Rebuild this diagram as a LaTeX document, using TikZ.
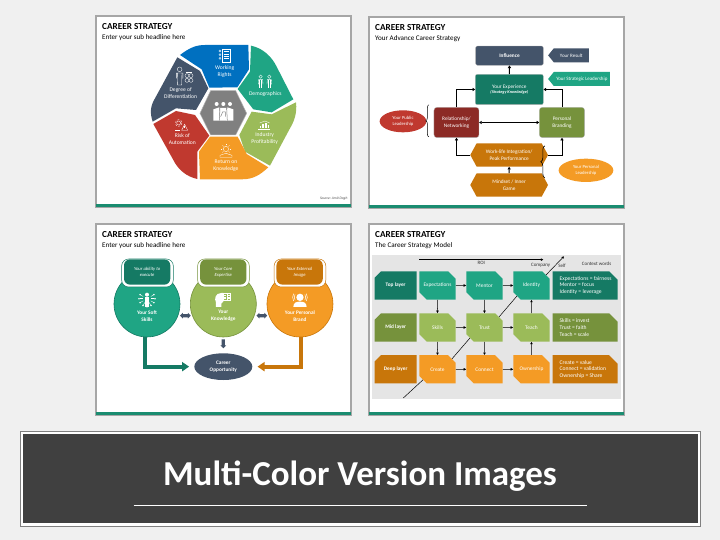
\documentclass[tikz,border=0pt]{standalone}
\usepackage{fontspec}
\setmainfont{Carlito}
\usetikzlibrary{arrows.meta,shapes.misc,shapes.symbols,shapes.arrows,shapes.geometric,decorations.pathreplacing}
\definecolor{pagegray}{HTML}{F0F0F0}
\definecolor{navy}{HTML}{44546A}
\definecolor{bluept}{HTML}{0070C0}
\definecolor{tealpt}{HTML}{1FA584}
\definecolor{tealdk}{HTML}{157A64}
\definecolor{greenpt}{HTML}{9BBB59}
\definecolor{greendk}{HTML}{76923C}
\definecolor{orangept}{HTML}{F49B25}
\definecolor{orangedk}{HTML}{C8760A}
\definecolor{redpt}{HTML}{C0392F}
\definecolor{reddk}{HTML}{8C2A25}
\newcommand{\fs}[2]{\fontsize{#1}{#2}\selectfont}
\tikzset{
    panel/.style={fill=white,draw=black!35,line width=1.2pt},
    panelbar/.style={fill=tealpt!85!black},
    slidetitle/.style={anchor=west,inner sep=0,font=\fs{9.2}{10}\bfseries},
    slidesub/.style={anchor=west,inner sep=0,font=\fs{7.1}{8}},
    petallabel/.style={text=white,align=center,inner sep=0,font=\fs{5.6}{6.8}},
    flowbox/.style={rounded corners=2pt,text=white,align=center,inner sep=0,draw=white!70!black,line width=.3pt,font=\fs{5.3}{7}},
    hexbox/.style={signal,signal to=west and east,signal pointer angle=123,minimum width=77.7pt,minimum height=23.3pt,
        fill=orangedk,text=white,align=center,inner sep=0,font=\fs{5.3}{7}},
    tagbox/.style={signal,signal to=west,signal pointer angle=102,minimum height=14pt,text=white,inner sep=0,font=\fs{5}{6}},
    talkoval/.style={ellipse,text=white,align=center,inner sep=0,font=\fs{4.7}{6}},
    flowline/.style={draw=black,line width=.9pt,-{Triangle[length=2.6pt,width=3.2pt]}},
    bigcircle/.style={circle,minimum size=66pt,inner sep=0,line width=.6pt},
    tabouter/.style={rounded corners=7pt,minimum width=51.7pt,minimum height=28pt,fill=white,line width=.5pt},
    tabinner/.style={rounded corners=6pt,minimum width=46.3pt,minimum height=25.3pt,text=white,align=center,inner sep=0,font=\fs{4.7}{6}\itshape},
    circlelabel/.style={text=white,align=center,inner sep=0,font=\fs{5.3}{6.8}\bfseries},
    blockarrow/.style={fill=navy,inner sep=1.4pt,minimum height=10.7pt,single arrow head extend=1.3pt,double arrow head extend=1.3pt},
    widearrow/.style={line width=4pt,-{Triangle[length=7pt,width=9pt]},shorten >=5pt},
    modelbox/.style={chamfered rectangle,chamfered rectangle corners={north east,south west},chamfered rectangle xsep=4.5pt,chamfered rectangle ysep=4pt,
        minimum width=36.3pt,minimum height=28.3pt,inner sep=0},
    modelword/.style={inner sep=0,text=white,font=\fs{5.4}{6.6}},
    layerbox/.style={chamfered rectangle,chamfered rectangle corners=north west,chamfered rectangle xsep=4.3pt,chamfered rectangle ysep=4pt,
        minimum width=42pt,minimum height=28.3pt,inner sep=0,text=white,font=\fs{5.3}{6.6}\bfseries},
    wordbox/.style={chamfered rectangle,chamfered rectangle corners=north east,chamfered rectangle xsep=11pt,chamfered rectangle ysep=5pt,
        minimum width=65pt,minimum height=28.3pt,inner sep=0},
    wordtext/.style={inner sep=0,text=white,text width=51pt,align=flush left,font=\fs{5.6}{6.6}},
    modelline/.style={draw=black,line width=.5pt,-{Triangle[length=2.4pt,width=2.4pt]}},
    modeltext/.style={inner sep=0,text=black!80,font=\fs{5}{6}},
    iconline/.style={draw=white,line width=.35pt,fill=none},
    iconfill/.style={fill=white},
}
\begin{document}
\begin{tikzpicture}[x=1pt,y=-1pt]
    \useasboundingbox (0,0) rectangle (720,540);
    \fill[pagegray] (0,0) rectangle (720,540);

    % the four slides
    \foreach \px/\py/\tx/\subline in {96/16/102/Enter your sub headline here,369/17/375/Your Advance Career Strategy,96/224/102/Enter your sub headline here,369/224/375/The Career Strategy Model}{
        \draw[panel] (\px,\py) rectangle ++(255,191);
        \fill[panelbar] (\px,\py) ++(0,188) rectangle ++(255,3);
        \node[slidetitle] (title\px\py) at (\tx,\py+11) {CAREER STRATEGY};
        \node[slidesub] (sub\px\py) at (\tx,\py+22) {\subline};
    }

    % slide 1
    \begin{scope}[shift={(90pt,-10pt)},x=.3333pt,y=-.3333pt]
        \fill[bluept] (270,135) .. controls (300,112) and (320,105) .. (345,105) -- (475,105) -- (477,178) -- (442,232) -- (358,233) -- (335,178) -- cycle;
        \fill[tealpt] (483,107) .. controls (520,115) and (545,140) .. (560,170) -- (610,268) -- (545,307) -- (490,298) -- (443,237) -- (480,185) -- cycle;
        \fill[greenpt] (618,277) .. controls (622,310) and (612,335) .. (600,355) -- (540,467) -- (465,425) -- (448,375) -- (485,305) -- (545,313) -- cycle;
        \fill[orangept] (535,472) .. controls (510,495) and (490,508) .. (455,508) -- (330,508) -- (327,425) -- (360,380) -- (443,380) -- (470,432) -- cycle;
        \fill[redpt] (322,507) .. controls (290,500) and (265,480) .. (250,450) -- (190,342) -- (258,303) -- (315,315) -- (358,377) -- (322,425) -- cycle;
        \fill[navy] (188,335) .. controls (180,310) and (180,290) .. (195,265) -- (262,142) -- (330,183) -- (355,235) -- (318,300) -- (258,295) -- cycle;
        \draw[fill=black!50,draw=black!30,line width=.5pt] (330,310) -- (362,242) -- (437,242) -- (470,310) -- (437,375) -- (362,375) -- cycle;

        \node[petallabel] (working) at (404,185) {Working\\Rights};
        \node[petallabel] (demographics) at (526,252) {Demographics};
        \node[petallabel] (industry) at (524,386) {Industry\\Profitability};
        \node[petallabel] (knowledgereturn) at (408,467) {Return on\\Knowledge};
        \node[petallabel] (automation) at (277,387) {Risk of\\Automation};
        \node[petallabel] (degree) at (272,250) {Degree of\\Differentiation};
        \node[inner sep=0,anchor=east,font=\fs{3.6}{4}\itshape,text=black!70] (source) at (773,567) {Source: Amit Dogh};

        % icons
        \begin{scope}[shift={(404,137)}]
            \draw[iconline] (-8,-19) rectangle (18,19);
            \foreach \ly in {-12,-5,2,9} \draw[iconline] (-3,\ly) -- (13,\ly);
            \foreach \ly in {-14,-3,8} \draw[iconline] (-14,\ly) circle (3);
        \end{scope}
        \begin{scope}[shift={(525,215)}]
            \foreach \hx in {-13,13}{
                \draw[iconline] (\hx,-15) circle (5);
                \draw[iconline] (\hx-7,8) -- (\hx-6,-6) -- (\hx+6,-6) -- (\hx+7,8);
                \draw[iconline] (\hx-3,-6) -- (\hx-3,20) (\hx+3,-6) -- (\hx+3,20);
            }
        \end{scope}
        \begin{scope}[shift={(523,347)}]
            \foreach \bx/\bh in {-14/8,-6/12,2/16,10/10} \fill[iconfill] (\bx,8) rectangle ++(5,-\bh);
            \draw[iconline] (-18,12) -- (18,12);
            \draw[iconline] (-14,-8) -- (2,-14) -- (16,-8);
        \end{scope}
        \begin{scope}[shift={(408,422)}]
            \draw[iconline] (0,-5) circle (8);
            \foreach \ra in {0,45,135,180,225,270,315} \draw[iconline] (\ra:11) ++(0,-5) -- ++(\ra:4);
            \draw[iconline] (-18,14) -- (0,8) -- (18,14) -- (18,20) -- (-18,20) -- cycle;
        \end{scope}
        \begin{scope}[shift={(272,345)}]
            \draw[iconline] (-6,-6) circle (6);
            \draw[iconline,dashed,dash pattern=on 2pt off 1.5pt] (-6,-6) circle (10);
            \draw[iconline] (3,16) -- (12,-2) -- (21,16) -- cycle;
            \draw[iconline] (12,4) -- (12,10);
            \draw[iconline] (-16,16) -- (-2,16);
        \end{scope}
        \begin{scope}[shift={(285,197)}]
            \draw[iconline] (-16,-19) circle (7);
            \draw[iconline] (-26,8) -- (-26,-8) -- (-6,-8) -- (-6,8) (-23,-8) -- (-22,28) -- (-10,28) -- (-9,-8);
            \foreach \cx/\cy in {6/0,18/0,6/14,18/14} \draw[iconline] (\cx,\cy) circle (6);
            \draw[iconline] (3,-10) -- (22,-10);
        \end{scope}
        \begin{scope}[shift={(400,310)}]
            \foreach \cx in {-20,0,20}{
                \fill[iconfill] (\cx,-28) circle (6);
            }
            \fill[iconfill] (-30,22) -- (-30,-12) -- (-12,-18) -- (-10,22) -- cycle;
            \fill[iconfill] (30,22) -- (30,-12) -- (12,-18) -- (10,22) -- cycle;
            \fill[iconfill] (-12,22) -- (-10,-16) -- (10,-16) -- (12,22) -- cycle;
            \draw[black!50,line width=.5pt] (-10,-16) -- (-12,22) (10,-16) -- (12,22) (-8,10) -- (-2,-4) -- (6,-4) -- (6,10);
        \end{scope}
    \end{scope}

    % slide 2
    \begin{scope}[shift={(365pt,-10pt)},x=.3333pt,y=-.3333pt]
        \node[flowbox,fill=navy,minimum width=67.7pt,minimum height=19.3pt,font=\fs{5.3}{7}\bfseries] (influence) at (433.5,137) {Influence};
        \node[flowbox,fill=tealdk,minimum width=68pt,minimum height=30.3pt] (experience) at (433,238.5) {Your Experience\\[-1.5pt]{\fs{4.2}{5}\bfseries\itshape (Strategy Knowledge)}};
        \node[flowbox,fill=reddk,minimum width=45pt,minimum height=30.3pt,rounded corners=3pt] (relationship) at (274.5,337.5) {Relationship/\\Networking};
        \node[flowbox,fill=greendk,minimum width=45.3pt,minimum height=30.3pt,rounded corners=3pt] (branding) at (591,337.5) {Personal\\Branding};
        \node[hexbox] (worklife) at (432.5,435) {Work-life Integration/\\Peak Performance};
        \node[hexbox] (mindset) at (432.5,525) {Mindset / Inner\\Game};
        \node[tagbox,fill=navy,minimum width=40.7pt] (result) at (619,136) {Your Result};
        \node[tagbox,fill=tealpt,minimum width=61.7pt] (strategic) at (650.5,207) {Your Strategic Leadership};
        \node[talkoval,fill=redpt,minimum width=46.7pt,minimum height=22pt] (public) at (114,334) {Your Public\\Leadership};
        \node[talkoval,fill=orangept,minimum width=54.7pt,minimum height=23.3pt] (personal) at (663,481) {Your Personal\\Leadership};

        \draw[flowline] (experience) -- (influence);
        \draw[flowline] (relationship.north) |- (experience.west);
        \draw[flowline] (branding.north) |- (experience.east);
        \draw[flowline,{Triangle[length=2.6pt,width=3.2pt]}-{Triangle[length=2.6pt,width=3.2pt]},line width=.6pt] (relationship) -- (branding);
        \draw[flowline] (worklife.west) -| (relationship.south);
        \draw[flowline] (worklife.east) -| (branding.south);
        \draw[flowline] (mindset) -- (worklife);
        \draw[black,line width=.5pt,decorate,decoration={brace,amplitude=3pt}] (relationship.south west) ++(-5pt,1pt) -- ++(0,32pt);
        \draw[black,line width=.6pt,decorate,decoration={brace,amplitude=4pt}] (worklife.south east) ++(3pt,-11pt) -- ++(0,32pt);
    \end{scope}

    % slide 3
    \begin{scope}[shift={(90pt,-218pt)},x=.3333pt,y=-.3333pt]
        \node[bigcircle,fill=tealpt,draw=tealdk] (softskills) at (171,258) {};
        \node[bigcircle,fill=greenpt,draw=greendk] (knowledge) at (400,258) {};
        \node[bigcircle,fill=orangept,draw=orangedk] (brand) at (630,258) {};
        \node[tabouter,draw=tealdk] (softtab) at (172.5,165) {};
        \node[tabouter,draw=greendk] (coretab) at (400.5,165) {};
        \node[tabouter,draw=orangedk] (imagetab) at (630,165) {};
        \node[tabinner,fill=tealdk] (softinner) at (171.5,162) {Your ability to\\execute};
        \node[tabinner,fill=greendk] (coreinner) at (400,162) {Your Core\\Expertise};
        \node[tabinner,fill=orangedk] (imageinner) at (629,162) {Your External\\Image};
        \node[circlelabel] (softlabel) at (171,294) {Your Soft\\Skills};
        \node[circlelabel] (knowlabel) at (400,294) {Your\\Knowledge};
        \node[circlelabel] (brandlabel) at (630,294) {Your Personal\\Brand};
        \node[ellipse,fill=navy,minimum width=58pt,minimum height=26.7pt,text=white,align=center,inner sep=0,font=\fs{5.3}{7}\bfseries] (career) at (400,446) {Career\\Opportunity};
        \node[double arrow,blockarrow] (softknow) at (286,293) {};
        \node[double arrow,blockarrow] (knowbrand) at (515.5,293) {};
        \node[single arrow,blockarrow,rotate=-90,minimum height=9pt] (knowcareer) at (400,375) {};

        \draw[widearrow,tealdk] ([xshift=-1.7pt]softskills.south) |- (career.west);
        \draw[widearrow,orangedk] ([xshift=1.3pt]brand.south) |- (career.east);

        % icons
        \begin{scope}[shift={(171,242)}]
            \fill[iconfill] (0,-12) circle (6);
            \fill[iconfill] (-7,-4) rectangle (7,24);
            \foreach \ra in {-30,0,30,60,90,120,150,180,210}{
                \fill[iconfill] (\ra:24) circle (2.6);
                \draw[iconline] (\ra:13) -- (\ra:22);
            }
        \end{scope}
        \begin{scope}[shift={(400,245)}]
            \fill[iconfill] (-22,22) -- (-22,8) .. controls (-28,-2) and (-24,-20) .. (-6,-20) -- (0,-20) -- (0,6) -- (-6,12) -- (-6,22) -- cycle;
            \draw[iconline,line width=.5pt] (0,-18) rectangle (22,2) (11,-18) -- (11,2);
            \foreach \ly in {-13,-8,-3} \draw[iconline] (3,\ly) -- (8,\ly) (14,\ly) -- (19,\ly);
        \end{scope}
        \begin{scope}[shift={(630,245)}]
            \fill[iconfill] (0,-7) circle (11);
            \fill[iconfill] (-20,22) .. controls (-20,8) and (-10,6) .. (0,6) .. controls (10,6) and (20,8) .. (20,22) -- cycle;
            \foreach \rr in {17,22}{
                \draw[iconline,line width=.5pt] (30:\rr) ++(0,-7) arc[start angle=30,end angle=-30,radius=\rr];
                \draw[iconline,line width=.5pt] (150:\rr) ++(0,-7) arc[start angle=150,end angle=210,radius=\rr];
            }
        \end{scope}
    \end{scope}

    % slide 4
    \begin{scope}[shift={(365pt,-218pt)},x=.3333pt,y=-.3333pt]
        \fill[black!10] (22,110) rectangle (768,542);

        \node[layerbox,fill=tealdk] (toplayer) at (92,202.5) {Top layer};
        \node[layerbox,fill=greendk] (midlayer) at (92,328.5) {Mid layer};
        \node[layerbox,fill=orangedk] (deeplayer) at (92,454) {Deep layer};

        \node[modelbox,fill=tealpt,label={[modelword]center:Expectations}] (expectations) at (217.5,202.5) {\phantom{Teach}};
        \node[modelbox,fill=tealpt,label={[modelword]center:Mentor}] (mentor) at (358.5,202.5) {\phantom{Teach}};
        \node[modelbox,fill=tealpt,label={[modelword]center:Identity}] (identity) at (499.5,202.5) {\phantom{Teach}};
        \node[modelbox,fill=greenpt,label={[modelword]center:Skills}] (skills) at (217.5,328.5) {\phantom{Teach}};
        \node[modelbox,fill=greenpt,label={[modelword]center:Trust}] (trust) at (358.5,328.5) {\phantom{Teach}};
        \node[modelbox,fill=greenpt,label={[modelword]center:Teach}] (teach) at (499.5,328.5) {\phantom{Teach}};
        \node[modelbox,fill=orangept,label={[modelword]center:Create}] (create) at (217.5,454) {\phantom{Teach}};
        \node[modelbox,fill=orangept,label={[modelword]center:Connect}] (connect) at (358.5,454) {\phantom{Teach}};
        \node[modelbox,fill=orangept,label={[modelword]center:Ownership}] (ownership) at (499.5,454) {\phantom{Teach}};

        \node[wordbox,fill=tealdk,label={[wordtext]center:{\mbox{Expectations = fairness}\\Mentor = focus\\Identity = leverage}}] (topwords) at (660.5,202.5) {\phantom{Teach}};
        \node[wordbox,fill=greendk,label={[wordtext]center:{Skills = invest\\Trust = faith\\Teach = scale}}] (midwords) at (660.5,328.5) {\phantom{Teach}};
        \node[wordbox,fill=orangedk,label={[wordtext]center:{Create = value\\Connect = validation\\Ownership = Share}}] (deepwords) at (660.5,454) {\phantom{Teach}};

        \node[modeltext] (roi) at (349,135) {ROI};
        \node[modeltext] (company) at (527,141) {Company};
        \node[modeltext] (self) at (591,144) {Self};
        \node[modeltext] (contextwords) at (695,138) {Context words};

        \coordinate (roistart) at (163,125);
        \coordinate (roiend) at (535,125);
        \coordinate (diagstart) at (115,540);
        \coordinate (diagend) at (597,115);

        \draw[modelline] (expectations) -- (mentor);
        \draw[modelline] (mentor) -- (identity);
        \draw[modelline] (expectations) -- (skills);
        \draw[modelline] (mentor) -- (trust);
        \draw[modelline] (teach) -- (identity);
        \draw[modelline] (skills) -- (trust);
        \draw[modelline] (trust) -- (teach);
        \draw[modelline] (skills) -- (create);
        \draw[modelline] (trust) -- (connect);
        \draw[modelline] (ownership) -- (teach);
        \draw[modelline] (create) -- (connect);
        \draw[modelline] (connect) -- (ownership);
        \draw[modelline] (roistart) -- (roiend);

        \draw[draw=black,line width=.5pt] (diagstart) -- (create.south west);
        \draw[draw=black,line width=.5pt] (create.north east) -- (trust.south west);
        \draw[draw=black,line width=.5pt] (trust.north east) -- (identity.south west);
        \draw[modelline] (identity.north east) -- (diagend);
    \end{scope}

    % banner
    \draw[fill=white,draw=black!50,line width=.7pt] (20,431) rectangle (700,526);
    \fill[black!75] (23,434) rectangle (698,523);
    \node[anchor=base,inner sep=0,text=white,font=\fs{35}{40}\bfseries] (banner) at (360,485.7) {Multi-Color Version Images};
    \draw[white,line width=.6pt] (133.5,505) -- (587,505);
\end{tikzpicture}
\end{document}
